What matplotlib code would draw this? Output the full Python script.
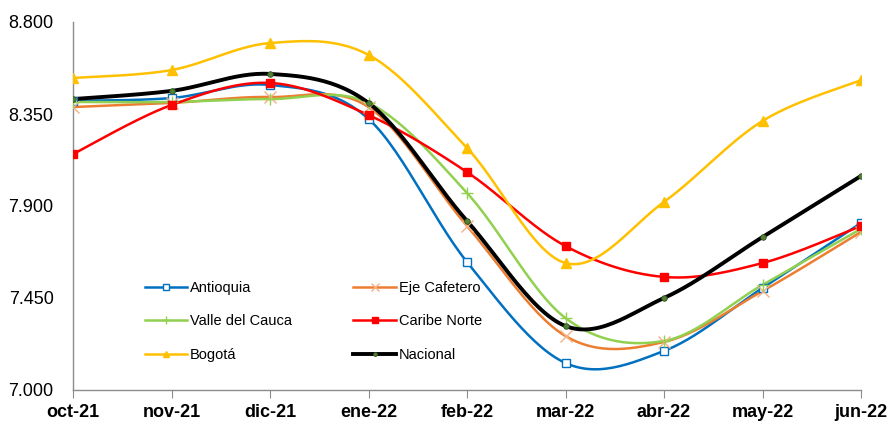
import matplotlib
matplotlib.use('Agg')
import matplotlib.pyplot as plt
import numpy as np

months = ['oct-21', 'nov-21', 'dic-21', 'ene-22', 'feb-22', 'mar-22', 'abr-22', 'may-22', 'jun-22']

antioquia = [8.414, 8.428, 8.492, 8.326, 7.626, 7.132, 7.191, 7.499, 7.817]
eje_cafetero = [8.384, 8.404, 8.433, 8.384, 7.802, 7.264, 7.235, 7.484, 7.773]
valle = [8.409, 8.409, 8.423, 8.404, 7.964, 7.352, 7.240, 7.514, 7.788]
caribe = [8.154, 8.394, 8.502, 8.345, 8.066, 7.704, 7.553, 7.621, 7.802]
bogota = [8.526, 8.565, 8.697, 8.639, 8.184, 7.621, 7.920, 8.316, 8.516]
nacional = [8.423, 8.463, 8.546, 8.404, 7.827, 7.313, 7.450, 7.748, 8.047]

y_ticks = [7.0, 7.45, 7.9, 8.35, 8.8]
y_labels = ['7.000', '7.450', '7.900', '8.350', '8.800']


def smooth(xs, ys, n=30):
    # excel-like smoothed line: bezier segments with catmull-rom control points
    p = np.column_stack([xs, ys]).astype(float)
    p = np.vstack([p[0], p, p[-1]])
    t = np.linspace(0, 1, n)[:, None]
    out = []
    for i in range(1, len(p) - 2):
        p0, p1, p2, p3 = p[i - 1], p[i], p[i + 1], p[i + 2]
        c1 = p1 + (p2 - p0) / 6
        c2 = p2 - (p3 - p1) / 6
        seg = ((1 - t) ** 3) * p1 + 3 * ((1 - t) ** 2) * t * c1 + 3 * (1 - t) * t ** 2 * c2 + t ** 3 * p2
        out.append(seg if i == 1 else seg[1:])
    out = np.vstack(out)
    return out[:, 0], out[:, 1]


plt.rcParams['font.family'] = ['Liberation Sans', 'DejaVu Sans']

fig = plt.figure(figsize=(8.94, 4.26), dpi=100)
ax = fig.add_axes([73 / 894, 1 - 390 / 426, (861 - 73) / 894, (390 - 22) / 426])

x = np.arange(len(months))

series = [
    ('Antioquia', antioquia, '#0070C0', 1.8, dict(marker='s', markersize=6, markerfacecolor='white', markeredgecolor='#0070C0', markeredgewidth=1.0)),
    ('Eje Cafetero', eje_cafetero, '#ED7D31', 1.8, dict(marker='x', markersize=8, markeredgecolor='#F4B183', markeredgewidth=1.0)),
    ('Valle del Cauca', valle, '#92D050', 1.8, dict(marker='+', markersize=9, markeredgecolor='#92D050', markeredgewidth=1.0)),
    ('Caribe Norte', caribe, '#FF0000', 1.8, dict(marker='s', markersize=5.5, markerfacecolor='#FF0000', markeredgecolor='#FF0000')),
    ('Bogotá', bogota, '#FFC000', 1.8, dict(marker='^', markersize=7, markerfacecolor='#FFC000', markeredgecolor='#FFC000')),
    ('Nacional', nacional, 'black', 2.8, dict(marker='o', markersize=4, markerfacecolor='#548235', markeredgecolor='#2F4F1F', markeredgewidth=0.6)),
]

handles = {}
for name, vals, col, lw, mk in series:
    sx, sy = smooth(x, vals)
    ax.plot(sx, sy, color=col, lw=lw, solid_capstyle='round', zorder=2)
    ax.plot(x, vals, linestyle='none', zorder=3, **mk)
    h, = ax.plot([], [], color=col, lw=lw, **mk)
    handles[name] = h

ax.set_xlim(0, len(months) - 1)
ax.set_ylim(7.0, 8.8)
ax.set_xticks(x)
ax.set_xticklabels(months, fontsize=13, fontweight='bold')
ax.set_yticks(y_ticks)
ax.set_yticklabels(y_labels, fontsize=13)

for s in ['top', 'right']:
    ax.spines[s].set_visible(False)
for s in ['left', 'bottom']:
    ax.spines[s].set_color('#8C8C8C')
    ax.spines[s].set_linewidth(1.0)
ax.tick_params(axis='x', direction='out', length=6, color='#8C8C8C', pad=4)
ax.tick_params(axis='y', length=0, pad=14)

order = ['Antioquia', 'Valle del Cauca', 'Bogotá', 'Eje Cafetero', 'Caribe Norte', 'Nacional']
ax.legend([handles[k] for k in order], order, ncol=2, loc='upper left',
          bbox_to_anchor=(0.0914, 0.297), frameon=False, fontsize=10.5,
          handlelength=2.9, handletextpad=0.2, columnspacing=4.2,
          labelspacing=1.35, borderpad=0, borderaxespad=0, markerscale=0.7)

fig.savefig('out.png', dpi=100)
